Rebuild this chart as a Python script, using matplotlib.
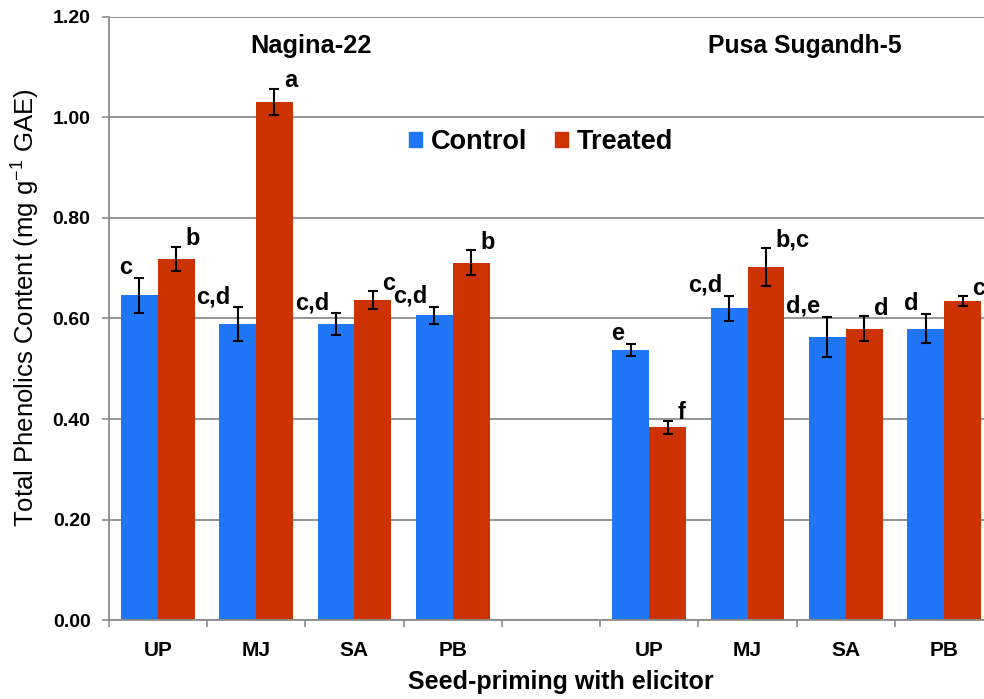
import matplotlib
matplotlib.use('Agg')
import matplotlib.pyplot as plt
import numpy as np
from matplotlib.patches import Patch

plt.rcParams['font.family'] = ['Liberation Sans', 'DejaVu Sans']
plt.rcParams['mathtext.fontset'] = 'custom'
plt.rcParams['mathtext.rm'] = 'Liberation Sans'

groups = ['Nagina-22', 'Pusa Sugandh-5']
categories = ['UP', 'MJ', 'SA', 'PB', 'UP', 'MJ', 'SA', 'PB']
control = [0.646, 0.589, 0.589, 0.606, 0.537, 0.620, 0.563, 0.580]
control_err = [0.035, 0.033, 0.021, 0.017, 0.012, 0.025, 0.040, 0.028]
treated = [0.719, 1.031, 0.636, 0.711, 0.384, 0.703, 0.580, 0.634]
treated_err = [0.024, 0.026, 0.018, 0.025, 0.013, 0.038, 0.024, 0.010]
control_letters = ['c', 'c,d', 'c,d', 'c,d', 'e', 'c,d', 'd,e', 'd']
treated_letters = ['b', 'a', 'c', 'b', 'f', 'b,c', 'd', 'c']

blue = '#1f77f7'
red = '#cc3300'
grid_col = '#8c8c8c'

# slot positions: 4 categories, an empty slot, 4 categories
pos = np.array([0, 1, 2, 3, 5, 6, 7, 8], dtype=float)
w = 0.375

fig = plt.figure(figsize=(9.84, 6.99), dpi=100)
ax = fig.add_axes([0.1104, 0.113, 0.8990, 0.8627])

ax.set_axisbelow(True)
ax.yaxis.grid(True, color=grid_col, linewidth=1.3)

ekw = dict(ecolor='black', elinewidth=1.5, capsize=3.5, capthick=1.5)
ax.bar(pos - w / 2, control, w, color=blue, yerr=control_err, error_kw=ekw, label='Control')
ax.bar(pos + w / 2, treated, w, color=red, yerr=treated_err, error_kw=ekw, label='Treated')

lfs = 17
for i in range(len(pos)):
    ax.annotate(control_letters[i], (pos[i] - w / 2, control[i] + control_err[i]),
                xytext=(-5, 3), textcoords='offset points', ha='right', va='baseline',
                fontsize=lfs, fontweight='bold')
    ax.annotate(treated_letters[i], (pos[i] + w / 2, treated[i] + treated_err[i]),
                xytext=(7, 1), textcoords='offset points', ha='left', va='baseline',
                fontsize=lfs, fontweight='bold')

ax.set_xlim(-0.5, 8.5)
ax.set_ylim(0, 1.2)
ax.set_yticks(np.arange(0, 1.21, 0.2))
ax.set_yticklabels([f'{v:.2f}' for v in np.arange(0, 1.21, 0.2)], fontsize=14, fontweight='bold')
ax.tick_params(axis='y', length=5, width=1.2, color=grid_col, pad=8)

ax.set_xticks(pos)
ax.set_xticklabels(categories, fontsize=15, fontweight='bold')
ax.set_xticks(np.arange(-0.5, 8.6, 1.0), minor=True)
ax.tick_params(axis='x', which='major', length=0, pad=15)
ax.tick_params(axis='x', which='minor', length=5, width=1.2, color=grid_col)

for s in ['top', 'right']:
    ax.spines[s].set_visible(False)
for s in ['left', 'bottom']:
    ax.spines[s].set_color(grid_col)
    ax.spines[s].set_linewidth(1.3)

# group titles
ax.text(1.56, 0.952, groups[0], transform=ax.get_xaxis_transform(), ha='center', va='center',
        fontsize=18.3, fontweight='bold')
ax.text(6.58, 0.952, groups[1], transform=ax.get_xaxis_transform(), ha='center', va='center',
        fontsize=17.8, fontweight='bold')

handles = [Patch(color=blue), Patch(color=red)]
ax.legend(handles, ['Control', 'Treated'], loc='center', bbox_to_anchor=(0.489, 0.793),
          ncol=2, frameon=False, prop={'size': 19.5, 'weight': 'bold'},
          handlelength=0.48, handleheight=0.48, handletextpad=0.3, columnspacing=1.05)

fig.text(0.026, 0.56, 'Total Phenolics Content (mg g$\\mathregular{^{-1}}$ GAE)',
         rotation=90, ha='center', va='center', fontsize=18.5)
fig.text(561 / 984, 1 - 682 / 699, 'Seed-priming with elicitor', ha='center', va='center',
         fontsize=18, fontweight='bold')

fig.savefig('out.png', dpi=100)
